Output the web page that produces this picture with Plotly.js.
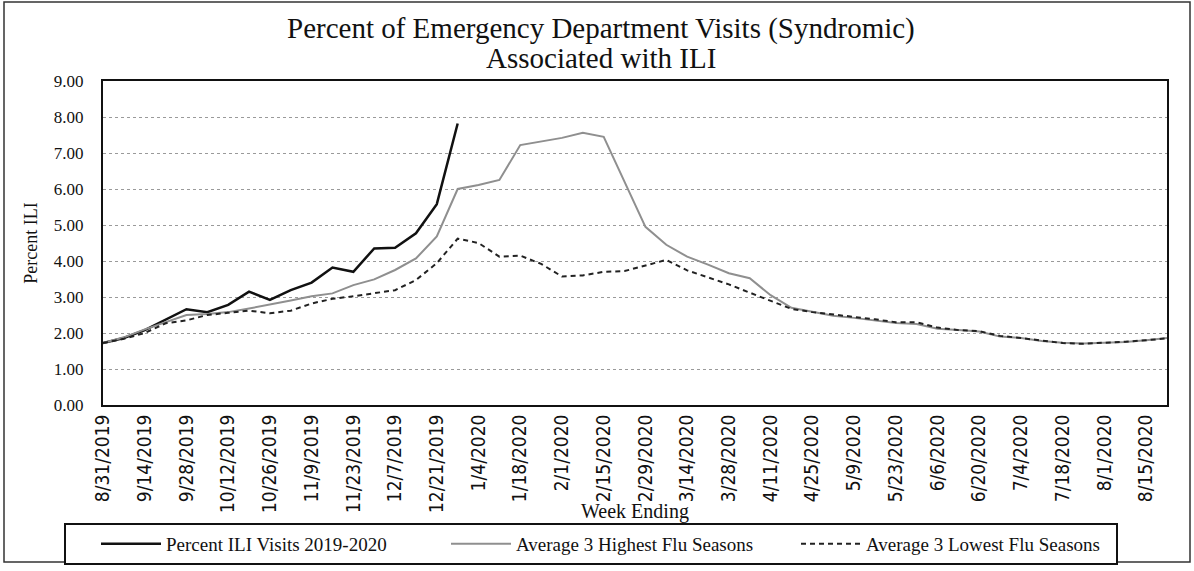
<!DOCTYPE html>
<html>
<head>
<meta charset="utf-8">
<script src="https://cdn.plot.ly/plotly-3.0.1.min.js"></script>
<style>
  html, body { margin: 0; padding: 0; background: #fff; }
  #chart { width: 1194px; height: 571px; }
</style>
</head>
<body>
<div id="chart"></div>
<script>
// Week ending dates (52 weeks)
const weeks = [
  "8/31/2019","9/7/2019","9/14/2019","9/21/2019","9/28/2019","10/5/2019","10/12/2019","10/19/2019",
  "10/26/2019","11/2/2019","11/9/2019","11/16/2019","11/23/2019","11/30/2019","12/7/2019","12/14/2019",
  "12/21/2019","12/28/2019","1/4/2020","1/11/2020","1/18/2020","1/25/2020","2/1/2020","2/8/2020",
  "2/15/2020","2/22/2020","2/29/2020","3/7/2020","3/14/2020","3/21/2020","3/28/2020","4/4/2020",
  "4/11/2020","4/18/2020","4/25/2020","5/2/2020","5/9/2020","5/16/2020","5/23/2020","5/30/2020",
  "6/6/2020","6/13/2020","6/20/2020","6/27/2020","7/4/2020","7/11/2020","7/18/2020","7/25/2020",
  "8/1/2020","8/8/2020","8/15/2020","8/22/2020"
];

// Tick labels shown on the axis (every other week)
const tickLabels = [
  "8/31/2019","9/14/2019","9/28/2019","10/12/2019","10/26/2019","11/9/2019","11/23/2019","12/7/2019",
  "12/21/2019","1/4/2020","1/18/2020","2/1/2020","2/15/2020","2/29/2020","3/14/2020","3/28/2020",
  "4/11/2020","4/25/2020","5/9/2020","5/23/2020","6/6/2020","6/20/2020","7/4/2020","7/18/2020",
  "8/1/2020","8/15/2020"
];

// Percent ILI Visits 2019-2020 (available through 12/28/2019)
const pctILI = [1.72, 1.86, 2.08, 2.36, 2.66, 2.58, 2.78, 3.15, 2.92, 3.19, 3.40, 3.82, 3.70, 4.35, 4.37, 4.77, 5.58, 7.82];

// Average 3 Highest Flu Seasons
const avgHighest = [
  1.72, 1.88, 2.10, 2.31, 2.50, 2.53, 2.58, 2.68, 2.78, 2.90, 3.02, 3.10, 3.33, 3.49, 3.75, 4.07,
  4.68, 6.00, 6.11, 6.25, 7.22, 7.31, 7.42, 7.56, 7.45, 6.20, 4.95, 4.45, 4.12, 3.90, 3.66, 3.52,
  3.05, 2.70, 2.58, 2.48, 2.42, 2.36, 2.28, 2.25, 2.12, 2.08, 2.04, 1.90, 1.86, 1.78, 1.73, 1.71,
  1.72, 1.75, 1.80, 1.86
];

// Average 3 Lowest Flu Seasons
const avgLowest = [
  1.72, 1.84, 2.00, 2.27, 2.35, 2.50, 2.56, 2.62, 2.55, 2.62, 2.82, 2.95, 3.02, 3.10, 3.19, 3.47,
  3.94, 4.62, 4.50, 4.12, 4.15, 3.92, 3.57, 3.60, 3.70, 3.72, 3.88, 4.03, 3.74, 3.55, 3.35, 3.12,
  2.90, 2.67, 2.58, 2.52, 2.45, 2.38, 2.30, 2.30, 2.15, 2.08, 2.05, 1.92, 1.86, 1.78, 1.72, 1.70,
  1.72, 1.76, 1.80, 1.85
];

const yTicks = [0, 1, 2, 3, 4, 5, 6, 7, 8, 9];
const titleLines = ["Percent of Emergency Department Visits (Syndromic)", "Associated with ILI"];

const serif = "'Liberation Serif', 'Times New Roman', serif";
const narrow = "'Liberation Sans Narrow', 'Arial Narrow', 'DejaVu Sans Condensed', sans-serif";

const traces = [
  {
    x: weeks.slice(0, pctILI.length), y: pctILI, type: "scatter", mode: "lines",
    name: "Percent ILI Visits 2019-2020",
    line: { color: "#111111", width: 2.5 }
  },
  {
    x: weeks, y: avgHighest, type: "scatter", mode: "lines",
    name: "Average 3 Highest Flu Seasons",
    line: { color: "#8f8f8f", width: 2 }
  },
  {
    x: weeks, y: avgLowest, type: "scatter", mode: "lines",
    name: "Average 3 Lowest Flu Seasons",
    line: { color: "#222222", width: 2, dash: "5px,4px" }
  }
];

const L = 103, R = 27, T = 81, B = 166;
const W = 1194, H = 571;
const pw = W - L - R, ph = H - T - B;
const px = v => (v - L) / pw;
const py = v => (H - B - v) / ph;

const layout = {
  width: W, height: H,
  margin: { l: L, r: R, t: T, b: B, autoexpand: false },
  paper_bgcolor: "#ffffff",
  plot_bgcolor: "#ffffff",
  showlegend: true,
  annotations: [
    {
      text: titleLines[0], xref: "paper", yref: "paper",
      x: px(601), y: py(29), xanchor: "center", yanchor: "middle", showarrow: false,
      font: { family: serif, size: 29, color: "#111" }
    },
    {
      text: titleLines[1], xref: "paper", yref: "paper",
      x: px(601), y: py(58), xanchor: "center", yanchor: "middle", showarrow: false,
      font: { family: serif, size: 29, color: "#111" }
    }
  ],
  xaxis: {
    type: "category",
    range: [0, weeks.length - 1],
    tickmode: "array",
    tickvals: tickLabels,
    ticktext: tickLabels,
    tickangle: -90,
    tickfont: { family: narrow, size: 19, color: "#111" },
    ticks: "",
    showgrid: false,
    showline: true, mirror: true, linecolor: "#111", linewidth: 2,
    zeroline: false,
    title: { text: "Week Ending", font: { family: serif, size: 20, color: "#111" }, standoff: 4 }
  },
  yaxis: {
    range: [0, 9],
    tickmode: "array",
    tickvals: yTicks,
    tickformat: ".2f",
    tickfont: { family: serif, size: 17, color: "#111" },
    ticks: "", ticklabelstandoff: 14,
    showgrid: true, gridcolor: "#9a9a9a", griddash: "dot", gridwidth: 1,
    showline: true, mirror: true, linecolor: "#111", linewidth: 2,
    zeroline: false,
    title: { text: "Percent ILI", font: { family: serif, size: 18, color: "#111" }, standoff: 12 }
  },
  legend: {
    orientation: "h",
    xref: "container", yref: "container",
    x: 64 / W, xanchor: "left",
    y: 1 - 523 / H, yanchor: "top",
    font: { family: serif, size: 19, color: "#111" },
    bordercolor: "#111", borderwidth: 2,
    bgcolor: "#ffffff",
    entrywidth: 245, entrywidthmode: "pixels",
    itemwidth: 60,
    indentation: 30
  },
  shapes: [
    {
      type: "rect", xref: "paper", yref: "paper",
      x0: px(4), x1: px(1190), y0: py(562), y1: py(2),
      line: { color: "#333", width: 1.5 }, fillcolor: "rgba(0,0,0,0)", layer: "below"
    }
  ]
};

Plotly.newPlot("chart", traces, layout, { displayModeBar: false, staticPlot: true });
</script>
</body>
</html>
